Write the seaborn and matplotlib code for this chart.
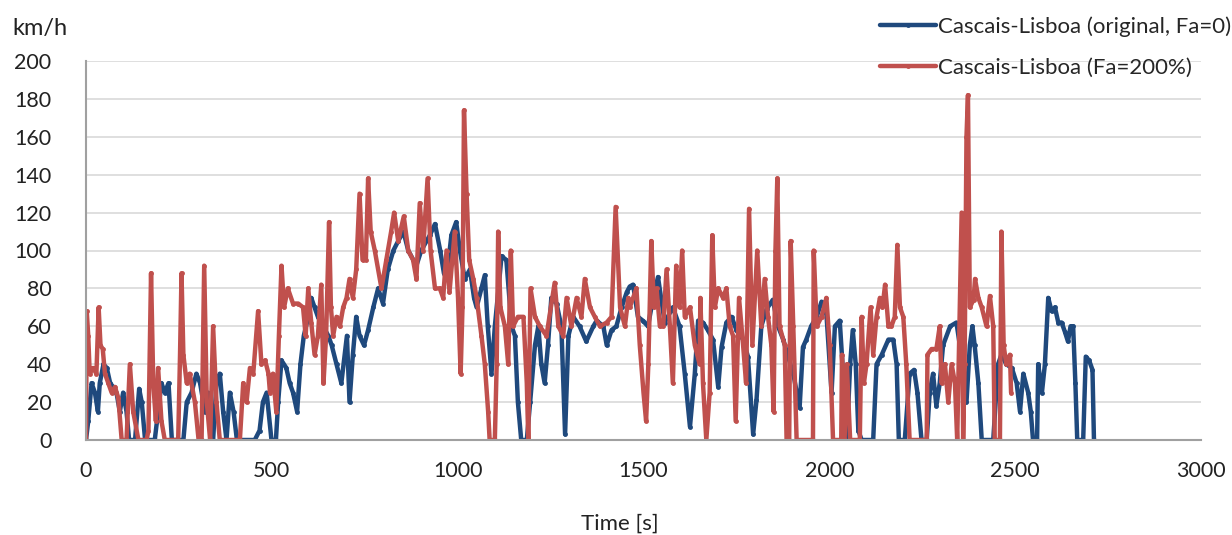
import numpy as np
import pandas as pd
import matplotlib
matplotlib.use("Agg")
import matplotlib.pyplot as plt
import seaborn as sns

# =========================
# DATA
# =========================
t_orig = [0, 6, 15, 24, 32, 37, 47, 56, 65, 73, 82, 91, 100, 109, 116, 132, 143, 150, 159, 185,
          194, 203, 212, 222, 231, 262, 271, 284, 297, 307, 320, 329, 342, 351, 360, 369, 378, 387, 397, 406,
          454, 467, 476, 486, 499, 511, 517, 526, 539, 548, 557, 568, 577, 586, 598, 606, 615, 624, 638, 652,
          661, 674, 687, 696, 702, 709, 718, 727, 736, 748, 759, 773, 786, 799, 812, 827, 840, 854, 867, 889,
          902, 925, 939, 953, 963, 970, 983, 996, 1006, 1019, 1033, 1044, 1051, 1064, 1073, 1081, 1091, 1100, 1109, 1118,
          1131, 1145, 1154, 1162, 1171, 1186, 1195, 1208, 1217, 1225, 1234, 1243, 1252, 1266, 1279, 1289, 1298, 1311, 1328, 1346,
          1365, 1374, 1392, 1401, 1414, 1427, 1441, 1455, 1463, 1472, 1485, 1498, 1512, 1526, 1539, 1557, 1579, 1597, 1611, 1625,
          1638, 1647, 1660, 1673, 1687, 1701, 1710, 1723, 1737, 1750, 1768, 1781, 1795, 1804, 1817, 1831, 1848, 1862, 1876, 1889,
          1903, 1920, 1929, 1938, 1951, 1966, 1979, 1992, 2006, 2015, 2028, 2037, 2047, 2056, 2063, 2071, 2078, 2087, 2118, 2127,
          2141, 2159, 2172, 2181, 2187, 2203, 2216, 2228, 2237, 2248, 2262, 2270, 2279, 2288, 2297, 2306, 2325, 2342, 2351, 2360,
          2369, 2378, 2385, 2391, 2401, 2410, 2441, 2454, 2463, 2476, 2491, 2504, 2513, 2522, 2535, 2542, 2548, 2559, 2562, 2572,
          2580, 2589, 2598, 2607, 2616, 2625, 2634, 2642, 2649, 2656, 2662, 2667, 2683, 2690, 2699, 2708, 2712]
v_orig = [0, 10, 30, 25, 15, 30, 40, 38, 30, 28, 25, 15, 25, 15, 0, 0, 27, 20, 0, 0,
          15, 30, 25, 30, 0, 0, 20, 25, 35, 30, 15, 25, 0, 30, 35, 15, 0, 25, 15, 0,
          0, 5, 20, 25, 0, 0, 20, 42, 38, 30, 25, 15, 40, 55, 65, 75, 70, 65, 60, 55,
          50, 40, 30, 45, 55, 20, 45, 65, 55, 50, 58, 70, 80, 72, 90, 100, 105, 110, 100, 92,
          100, 108, 114, 100, 88, 85, 108, 115, 100, 85, 90, 75, 70, 80, 87, 60, 35, 60, 78, 97,
          95, 60, 55, 20, 0, 0, 20, 50, 60, 40, 30, 50, 75, 72, 60, 3, 55, 65, 60, 52,
          60, 63, 60, 50, 58, 60, 70, 78, 81, 82, 65, 63, 60, 75, 86, 62, 70, 60, 35, 7,
          35, 63, 62, 58, 53, 28, 49, 62, 65, 58, 53, 44, 3, 21, 60, 69, 74, 60, 53, 44,
          35, 17, 49, 53, 60, 65, 73, 67, 25, 60, 63, 35, 0, 40, 58, 40, 5, 0, 0, 40,
          45, 53, 53, 40, 0, 0, 35, 37, 25, 0, 0, 25, 35, 18, 30, 50, 60, 62, 50, 40,
          20, 50, 60, 50, 30, 0, 0, 40, 45, 40, 38, 30, 15, 35, 25, 15, 0, 0, 40, 25,
          40, 75, 68, 70, 62, 62, 57, 52, 60, 60, 30, 0, 0, 44, 42, 37, 0]

t_fa200 = [0, 2, 6, 10, 19, 28, 34, 39, 45, 51, 60, 69, 78, 87, 96, 109, 118, 127, 141, 163,
           168, 175, 181, 188, 194, 203, 212, 248, 253, 257, 262, 271, 279, 293, 303, 311, 318, 325, 334, 342,
           351, 360, 414, 423, 432, 441, 450, 463, 472, 482, 491, 495, 503, 512, 519, 526, 533, 543, 557, 571,
           584, 591, 598, 606, 615, 624, 633, 639, 646, 654, 659, 665, 674, 683, 692, 701, 709, 718, 727, 736,
           744, 753, 759, 766, 777, 795, 808, 821, 829, 840, 855, 867, 880, 889, 898, 907, 919, 927, 939, 952,
           961, 970, 978, 992, 1001, 1008, 1013, 1017, 1024, 1031, 1042, 1051, 1064, 1073, 1082, 1086, 1100, 1105, 1109, 1115,
           1127, 1136, 1143, 1149, 1162, 1177, 1186, 1190, 1196, 1208, 1221, 1239, 1261, 1271, 1284, 1293, 1306, 1320, 1333, 1342,
           1356, 1369, 1383, 1401, 1414, 1425, 1437, 1450, 1459, 1463, 1481, 1490, 1500, 1507, 1513, 1521, 1528, 1535, 1544, 1553,
           1562, 1571, 1579, 1588, 1597, 1604, 1611, 1625, 1638, 1651, 1653, 1660, 1669, 1678, 1685, 1692, 1701, 1714, 1723, 1732,
           1741, 1748, 1757, 1768, 1776, 1784, 1793, 1806, 1817, 1826, 1835, 1844, 1850, 1855, 1860, 1866, 1880, 1885, 1892, 1896,
           1903, 1912, 1956, 1958, 1966, 1979, 1992, 2001, 2010, 2032, 2034, 2041, 2047, 2056, 2082, 2087, 2093, 2100, 2111, 2118,
           2127, 2136, 2143, 2150, 2159, 2167, 2176, 2183, 2190, 2199, 2207, 2216, 2262, 2264, 2275, 2288, 2297, 2302, 2311, 2320,
           2329, 2338, 2344, 2356, 2360, 2364, 2369, 2373, 2378, 2388, 2392, 2401, 2410, 2423, 2432, 2441, 2445, 2459, 2463, 2469,
           2476, 2486, 2489]
v_fa200 = [0, 68, 55, 35, 38, 35, 70, 50, 48, 35, 30, 25, 28, 22, 0, 0, 40, 15, 0, 0,
           5, 88, 30, 10, 38, 10, 0, 0, 45, 88, 45, 30, 35, 20, 0, 0, 92, 20, 0, 60,
           20, 0, 0, 30, 20, 38, 35, 68, 40, 42, 35, 25, 35, 15, 55, 92, 70, 80, 72, 72,
           70, 55, 80, 62, 45, 55, 82, 30, 55, 115, 70, 55, 65, 60, 70, 75, 85, 75, 90, 130,
           95, 95, 138, 110, 100, 80, 95, 110, 120, 105, 118, 100, 95, 85, 125, 100, 138, 100, 80, 80,
           75, 100, 78, 110, 75, 35, 70, 174, 130, 95, 85, 75, 55, 40, 15, 0, 0, 40, 110, 70,
           60, 40, 100, 60, 65, 65, 30, 0, 80, 65, 60, 55, 83, 60, 55, 75, 60, 75, 65, 85,
           70, 65, 60, 62, 65, 123, 70, 60, 75, 70, 80, 50, 25, 10, 40, 105, 70, 80, 60, 60,
           90, 60, 30, 92, 70, 100, 65, 70, 50, 40, 75, 30, 0, 25, 108, 70, 80, 75, 80, 60,
           55, 10, 75, 50, 30, 122, 50, 100, 60, 85, 65, 50, 15, 100, 138, 60, 50, 0, 0, 105,
           60, 0, 0, 100, 60, 65, 75, 50, 0, 0, 45, 0, 40, 0, 0, 65, 30, 40, 70, 45,
           65, 75, 70, 82, 60, 60, 65, 103, 70, 65, 40, 0, 0, 45, 48, 48, 60, 30, 40, 20,
           40, 30, 0, 120, 0, 40, 160, 182, 70, 74, 85, 75, 70, 60, 76, 60, 0, 0, 110, 50,
           40, 45, 25]

label_orig = "Cascais-Lisboa (original, Fa=0)"
label_fa200 = "Cascais-Lisboa (Fa=200%)"

df = pd.concat([
    pd.DataFrame({"time": t_orig, "speed": v_orig, "series": label_orig}),
    pd.DataFrame({"time": t_fa200, "speed": v_fa200, "series": label_fa200}),
], ignore_index=True)

# =========================
# PLOT
# =========================
sns.set_style("white")
plt.rcParams["font.family"] = ["Lato", "DejaVu Sans"]

fig = plt.figure(figsize=(12.32, 5.35), dpi=100)
ax = fig.add_axes([86 / 1232, 95 / 535, 1115 / 1232, 379 / 535])

sns.lineplot(data=df, x="time", y="speed", hue="series", ax=ax,
             palette={label_orig: "#1F497D", label_fa200: "#C0504D"},
             estimator=None, sort=False, linewidth=3.2,
             marker="o", markersize=3.5, markeredgewidth=0)

ax.set_xlim(0, 3000)
ax.set_ylim(0, 200)
ax.set_xticks(np.arange(0, 3001, 500))
ax.set_yticks(np.arange(0, 201, 20))
ax.yaxis.grid(True, color="#d9d9d9", linewidth=1.2)
ax.set_axisbelow(True)
for side in ["top", "right"]:
    ax.spines[side].set_visible(False)
for side in ["left", "bottom"]:
    ax.spines[side].set_color("#a0a0a0")
    ax.spines[side].set_linewidth(1.5)
ax.tick_params(axis="both", labelsize=15.5, colors="#a0a0a0", labelcolor="#222222",
               length=7, width=1.2, direction="out")
ax.tick_params(axis="y", pad=18)
ax.tick_params(axis="x", pad=8)
ax.set_xlabel("")
ax.set_ylabel("")

fig.text(12 / 1232, 1 - 29 / 535, "km/h", fontsize=17, va="center", ha="left", color="#222222")
fig.text(620 / 1232, 0.002, "Time [s]", fontsize=16, va="bottom", ha="center", color="#222222")

handles, labels = ax.get_legend_handles_labels()
ax.get_legend().remove()
fig.legend(handles, labels, loc="upper left", bbox_to_anchor=(880 / 1232, 1 - 16 / 535),
           frameon=False, fontsize=16, handlelength=2.5, handletextpad=0.1,
           labelspacing=0.95, borderaxespad=0, borderpad=0)

fig.savefig("out.png", dpi=100)
plt.close(fig)
